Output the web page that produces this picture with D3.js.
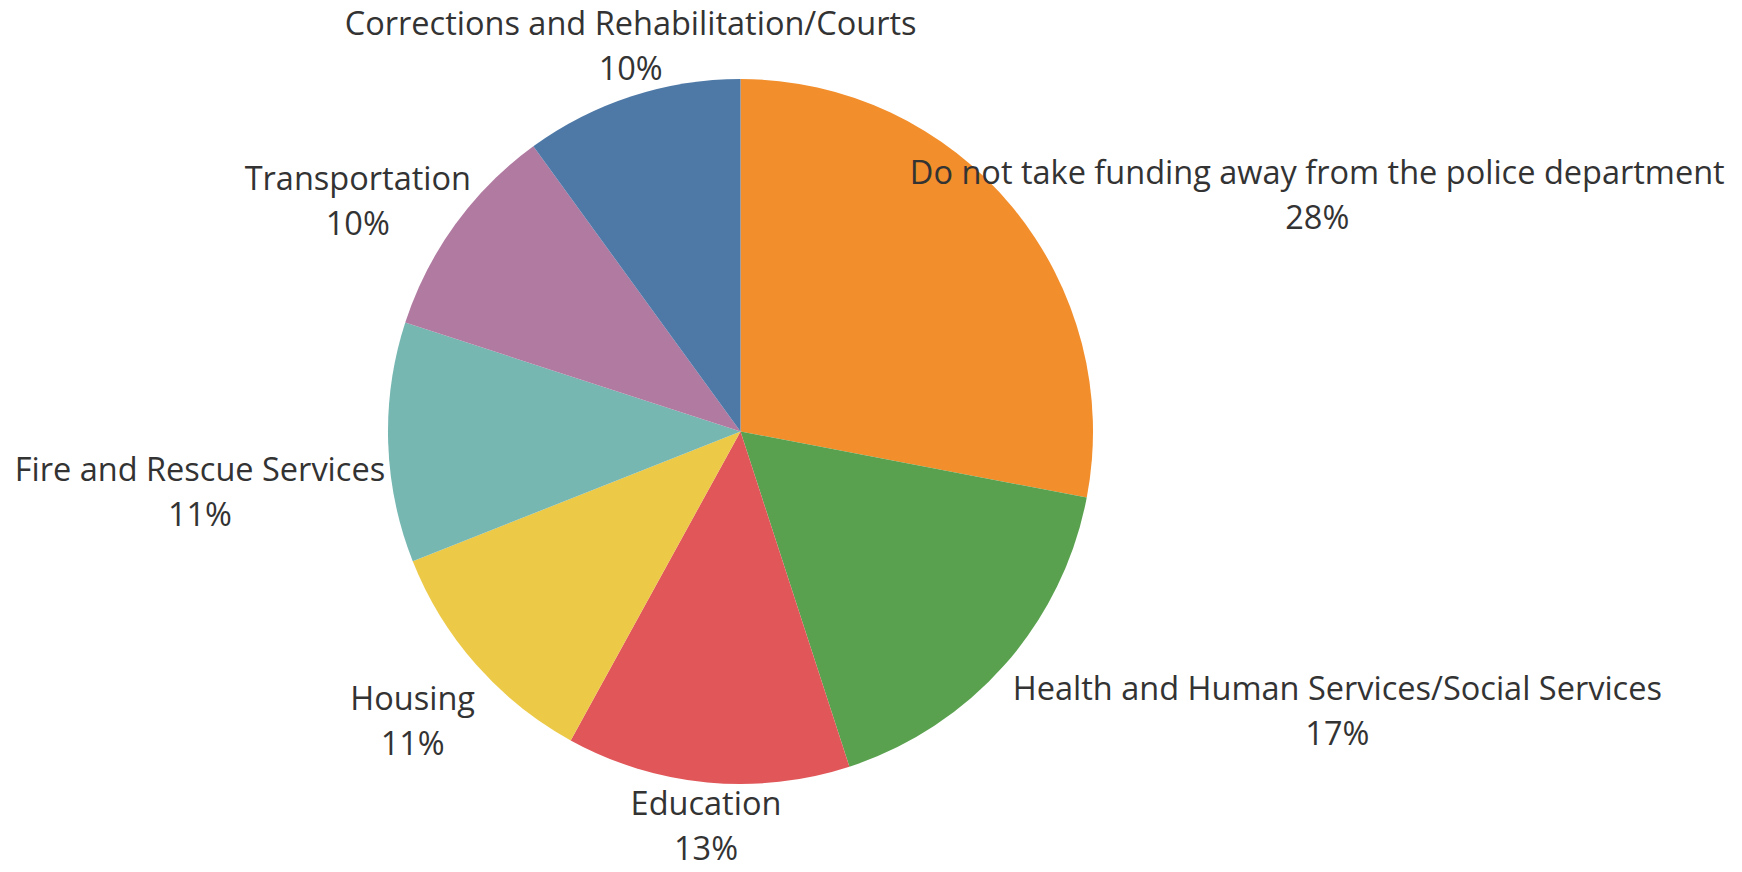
<!DOCTYPE html>
<html>
<head>
<meta charset="utf-8">
<script src="https://cdn.jsdelivr.net/npm/d3@7/dist/d3.min.js"></script>
<style>
  html, body { margin: 0; padding: 0; background: #ffffff; }
  svg { display: block; }
  .slice-label { font-family: "Segoe UI", "Open Sans", "Noto Sans", sans-serif; font-size: 32.5px; fill: #333333; }
</style>
</head>
<body>
<svg id="chart" width="1742" height="872"></svg>
<script>
// Where respondents would redirect police funding (share of responses, %)
const categories = [
  "Do not take funding away from the police department",
  "Health and Human Services/Social Services",
  "Education",
  "Housing",
  "Fire and Rescue Services",
  "Transportation",
  "Corrections and Rehabilitation/Courts"
];
const shares = [28, 17, 13, 11, 11, 10, 10];
const sliceColors = ["#F28E2B", "#59A14F", "#E15759", "#EDC948", "#76B7B2", "#B07AA1", "#4E79A7"];

// Label placement: nudge (px) away from the point on the label ring at each slice's mid-angle
const labelNudges = [[278, 0], [306, 12], [2, -3], [-37, 22], [-153, 37], [-69, -14], [10, -28]];

const width = 1742, height = 872;
const cx = 740.5, cy = 431.5, radius = 352.5;
const lineGap = 45;

const svg = d3.select("#chart");
const g = svg.append("g").attr("transform", `translate(${cx},${cy})`);

const rows = categories.map((name, i) => ({ name, value: shares[i], color: sliceColors[i], nudge: labelNudges[i] }));

const pie = d3.pie().value(d => d.value).sort(null);
const arcs = pie(rows);

const arc = d3.arc().innerRadius(0).outerRadius(radius);

g.selectAll("path.slice")
  .data(arcs)
  .join("path")
  .attr("class", "slice")
  .attr("d", arc)
  .attr("fill", d => d.data.color);

const labels = g.selectAll("text.slice-label")
  .data(arcs)
  .join("text")
  .attr("class", "slice-label")
  .attr("text-anchor", "middle")
  .attr("transform", d => {
    const mid = (d.startAngle + d.endAngle) / 2;
    const r = radius * 1.1;
    const x = Math.sin(mid) * r + d.data.nudge[0];
    const y = -Math.cos(mid) * r + d.data.nudge[1];
    return `translate(${x},${y})`;
  });

labels.append("tspan").attr("x", 0).attr("y", 0).text(d => d.data.name);
labels.append("tspan").attr("x", 0).attr("y", lineGap).text(d => d.data.value + "%");
</script>
</body>
</html>
